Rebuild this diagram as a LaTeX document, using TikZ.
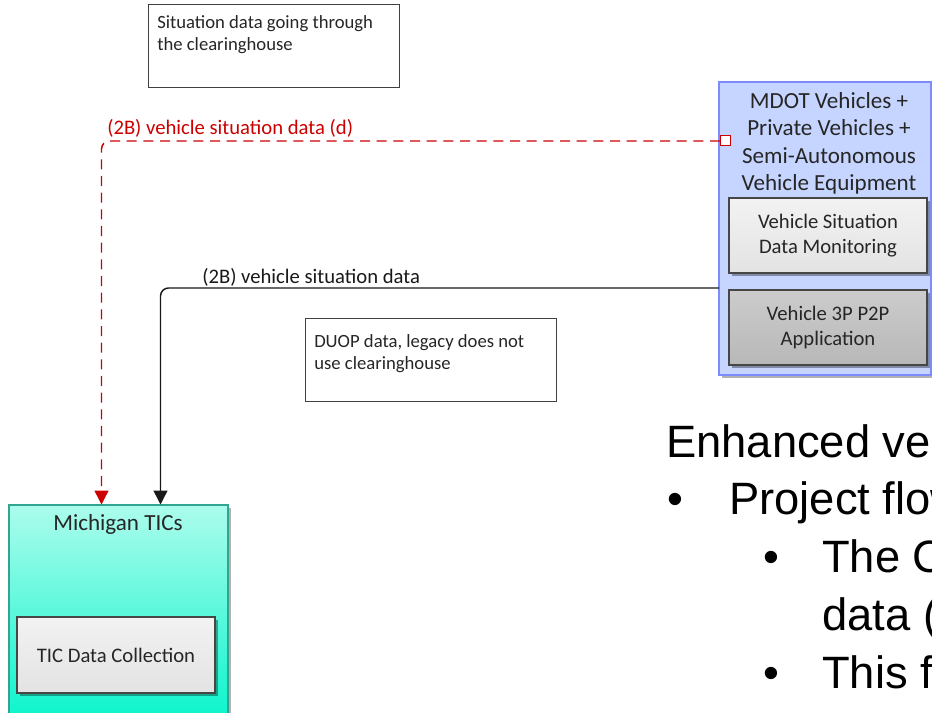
\documentclass[tikz,border=0pt]{standalone}
\usepackage{fontspec}
\setmainfont{Carlito}
\newfontfamily\slidefont{Liberation Sans}
\usetikzlibrary{shadows,arrows.meta}

\definecolor{vehfill}{RGB}{198,213,255}
\definecolor{vehedge}{RGB}{125,140,250}
\definecolor{ticstop}{RGB}{172,252,236}
\definecolor{ticsbot}{RGB}{0,244,202}
\definecolor{ticsedge}{RGB}{50,165,145}
\definecolor{flowred}{RGB}{204,0,0}
\definecolor{subedge}{RGB}{70,70,70}

\tikzset{
  notebox/.style={draw=black!75, line width=0.75pt, fill=white,
    minimum width=188.25pt, minimum height=62.25pt, inner sep=0pt, outer sep=0pt},
  notetext/.style={anchor=base west, align=left, inner sep=0pt,
    font=\fontsize{14}{16.5}\selectfont, text=black!85},
  sysbox/.style={draw=#1, line width=1.1pt, inner sep=0pt, outer sep=0pt,
    drop shadow={shadow xshift=2pt, shadow yshift=-2pt, fill=black, opacity=0.3}},
  subsys/.style={draw=subedge, line width=0.9pt, minimum width=148.5pt,
    minimum height=56.25pt, inner sep=0pt, outer sep=0pt, align=center,
    font=\fontsize{15.5}{19}\selectfont, text=black!85,
    drop shadow={shadow xshift=2pt, shadow yshift=-2pt, fill=black, opacity=0.35}},
  systitle/.style={inner sep=0pt, align=center, font=\fontsize{17.3}{20.6}\selectfont, text=black!85},
  flowlabel/.style={anchor=base west, inner sep=0pt, font=\fontsize{15.5}{18}\selectfont},
  flow/.style={line width=1.1pt, rounded corners=6pt,
    -{Triangle[width=10.5pt,length=10.5pt]}},
  slide/.style={anchor=base west, inner sep=0pt, font=\slidefont\fontsize{34}{43.5}\selectfont},
}

\begin{document}
\begin{tikzpicture}[x=0.75pt,y=-0.75pt]
\useasboundingbox (0,0) rectangle (932,713);
\clip (0,0) rectangle (932,713);

% annotation boxes (text anchored on the baseline of its last line)
\node[notebox] (note1) at (273.5,46.5) {};
\node[notetext] (note1t) at (157,51) {Situation data going through\\the clearinghouse};
\node[notebox] (note2) at (430.5,360) {};
\node[notetext] (note2t) at (314,369) {DUOP data, legacy does not\\use clearinghouse};

% vehicle equipment
\node[sysbox=vehedge, fill=vehfill, minimum width=159pt, minimum height=219.75pt] (veh) at (825,228.5) {};
\node[systitle] (vehtitle) at (829,143.5) {MDOT Vehicles +\\Private Vehicles +\\Semi-Autonomous\\Vehicle Equipment};
\node[subsys, top color=black!5, bottom color=black!11] (vsdm) at (828,235.5) {Vehicle Situation\\Data Monitoring};
\node[subsys, top color=black!20, bottom color=black!28] (v3p) at (828,327.5) {Vehicle 3P P2P\\Application};

% Michigan TICs
\node[sysbox=ticsedge, top color=ticstop, bottom color=ticsbot, minimum width=164.25pt, minimum height=172.5pt] (tics) at (118.5,620) {};
\node[systitle, anchor=base] (ticstitle) at (118,530) {Michigan TICs};
\node[subsys, top color=black!5, bottom color=black!11, minimum height=57pt] (ticdc) at (116,655) {TIC Data Collection};

% flow end points
\coordinate (redin) at (101.5,504.5);
\coordinate (blkin) at (160.5,504.5);
\coordinate (vehout) at (719,288);

% flows
\node[draw=flowred, fill=white, line width=0.75pt, minimum size=7.5pt, inner sep=0pt, outer sep=0pt] (port) at (725,141) {};
\draw[flow, flowred, dash pattern=on 7.5pt off 5pt] (port.west) -| (redin);
\node[flowlabel, text=flowred] (redlbl) at (107,135) {(2B) vehicle situation data (d)};
\draw[flow, black!90] (vehout) -| (blkin);
\node[flowlabel, text=black!90] (blklbl) at (202,283) {(2B) vehicle situation data};

% slide text
\node[slide] (s1) at (666,457) {Enhanced vehicle};
\node[slide] (b1) at (667,514) {•};
\node[slide] (s2) at (729,514) {Project flow};
\node[slide] (b2) at (763,572) {•};
\node[slide] (s3) at (822,572) {The C};
\node[slide] (s4) at (822,630) {data (};
\node[slide] (b3) at (763,688) {•};
\node[slide] (s5) at (822,688) {This f};
\end{tikzpicture}
\end{document}
